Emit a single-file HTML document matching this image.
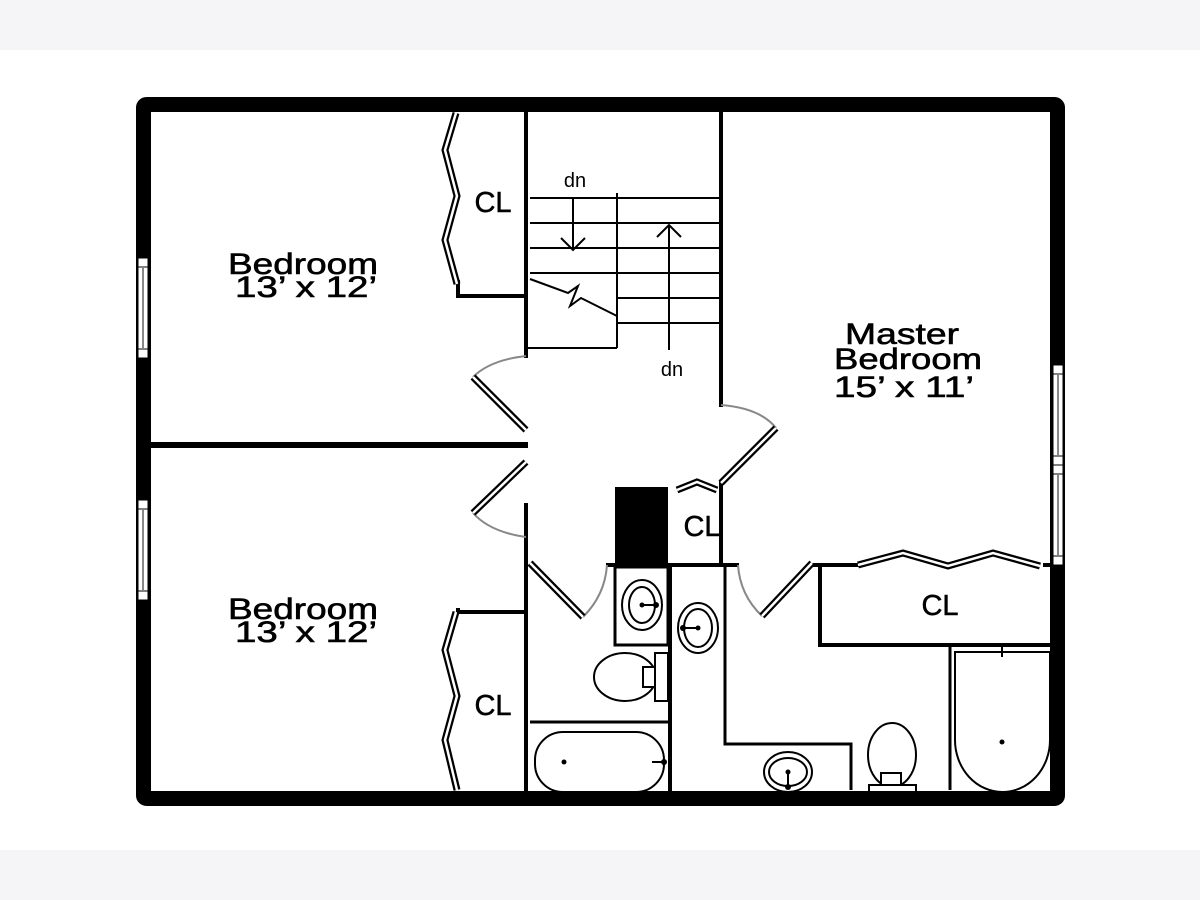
<!DOCTYPE html>
<html><head><style>
html,body{margin:0;padding:0;background:#fff;}
svg{display:block;}
text{font-family:"Liberation Sans",sans-serif;fill:#000;}
</style></head><body>
<svg width="1200" height="900" viewBox="0 0 1200 900">
<rect x="0" y="0" width="1200" height="900" fill="#fff"/>
<rect x="0" y="0" width="1200" height="50" fill="#f5f5f7"/>
<rect x="0" y="850" width="1200" height="50" fill="#f5f5f7"/>

<rect x="143.5" y="104.5" width="914" height="694" fill="none" stroke="#000" stroke-width="15" rx="3"/>

<g fill="#fff" stroke="#000" stroke-width="1">
<rect x="138" y="258" width="10" height="100"/>
<rect x="138" y="500" width="10" height="100"/>
<rect x="1053" y="365" width="10" height="100"/>
<rect x="1053" y="465" width="10" height="100"/>
</g>
<g stroke="#888" stroke-width="2">
<line x1="143" y1="268" x2="143" y2="348"/>
<line x1="143" y1="510" x2="143" y2="590"/>
<line x1="1058" y1="375" x2="1058" y2="455"/>
<line x1="1058" y1="475" x2="1058" y2="555"/>
</g>
<g fill="#fff" stroke="#000" stroke-width="1">
<rect x="138" y="258" width="10" height="9"/><rect x="138" y="349" width="10" height="9"/>
<rect x="138" y="500" width="10" height="9"/><rect x="138" y="591" width="10" height="9"/>
<rect x="1053" y="365" width="10" height="9"/><rect x="1053" y="456" width="10" height="9"/>
<rect x="1053" y="465" width="10" height="9"/><rect x="1053" y="556" width="10" height="9"/>
</g>

<g stroke="#000" stroke-width="4" fill="none" stroke-linecap="square">
<line x1="526" y1="113" x2="526" y2="356"/>
<line x1="526" y1="505" x2="526" y2="790"/>
<line x1="721" y1="113" x2="721" y2="405"/>
<line x1="151" y1="444" x2="526" y2="444"/>
<line x1="151" y1="446" x2="526" y2="446"/>
<polyline points="458,282 458,296 526,296"/>
<polyline points="458,610 458,612 526,612"/>
<line x1="721" y1="483" x2="721" y2="565"/>
<line x1="608" y1="565" x2="737" y2="565"/>
<line x1="812" y1="565" x2="858" y2="565"/>
<line x1="1045" y1="565" x2="1050" y2="565"/>
<polyline points="820,567 820,645 1050,645"/>
<line x1="670" y1="565" x2="670" y2="790"/>
</g>
<g stroke="#000" stroke-width="3" fill="none">
<polyline points="725,565 725,744 851,744 851,790"/>
<line x1="950" y1="647" x2="950" y2="790"/>
<line x1="530" y1="722" x2="668" y2="722"/>
<rect x="615" y="567" width="53" height="78"/>
</g>

<rect x="615" y="487" width="53" height="78" fill="#000"/>

<g stroke="#000" stroke-width="2" fill="none">
<line x1="530" y1="198" x2="720" y2="198"/>
<line x1="530" y1="223" x2="720" y2="223"/>
<line x1="530" y1="248" x2="720" y2="248"/>
<line x1="530" y1="273" x2="720" y2="273"/>
<line x1="617" y1="298" x2="720" y2="298"/>
<line x1="617" y1="323" x2="720" y2="323"/>
<line x1="617" y1="193" x2="617" y2="348"/>
<line x1="528" y1="348" x2="617" y2="348"/>
<polyline points="530,279 568,293 578,286 570,306 581,298 617,316"/>
<line x1="573" y1="198" x2="573" y2="250"/>
<polyline points="561,238 573,250 585,238"/>
<line x1="669" y1="225" x2="669" y2="350"/>
<polyline points="657,237 669,225 681,237"/>
</g>
<text x="575" y="187" font-size="20" text-anchor="middle">dn</text>
<text x="672" y="376" font-size="20" text-anchor="middle">dn</text>

<g stroke="#888" stroke-width="2" fill="none">
<path d="M526,356 Q490,360 473,377"/>
<path d="M473,513 Q490,532 526,537"/>
<path d="M721,405 Q760,408 776,428"/>
<path d="M583,617 Q605,595 607,565"/>
<path d="M738,565 Q740,595 762,616"/>
</g>
<g stroke="#000" stroke-width="7" fill="none" stroke-linejoin="miter">
<line x1="473" y1="377" x2="526" y2="430"/>
<line x1="473" y1="513" x2="526" y2="462"/>
<line x1="776" y1="428" x2="721" y2="483"/>
<line x1="530" y1="563" x2="583" y2="617"/>
<line x1="812" y1="563" x2="762" y2="616"/>
<polyline points="456,113 445,150 457,196 445,240 457,284"/>
<polyline points="456,612 445,650 457,696 445,740 457,790"/>
<polyline points="858,565 903,553 948,566 993,553 1040,566"/>
<polyline points="677,490 697,482 717,490"/>
</g>
<g stroke="#fff" stroke-width="2.5" fill="none">
<line x1="473" y1="377" x2="526" y2="430"/>
<line x1="473" y1="513" x2="526" y2="462"/>
<line x1="776" y1="428" x2="721" y2="483"/>
<line x1="530" y1="563" x2="583" y2="617"/>
<line x1="812" y1="563" x2="762" y2="616"/>
<polyline points="456,113 445,150 457,196 445,240 457,284"/>
<polyline points="456,612 445,650 457,696 445,740 457,790"/>
<polyline points="858,565 903,553 948,566 993,553 1040,566"/>
<polyline points="677,490 697,482 717,490"/>
</g>

<g stroke="#000" stroke-width="2" fill="#fff">
<ellipse cx="642" cy="605" rx="20" ry="25"/>
<ellipse cx="642" cy="605" rx="13" ry="18"/>
<ellipse cx="698" cy="628" rx="20" ry="25"/>
<ellipse cx="698" cy="628" rx="14" ry="19"/>
<ellipse cx="625" cy="677" rx="31" ry="24"/>
<rect x="643" y="667" width="12" height="20"/>
<rect x="655" y="653" width="13" height="48"/>
<rect x="535" y="732" width="129" height="60" rx="28"/>
<ellipse cx="788" cy="772" rx="24" ry="20"/>
<ellipse cx="788" cy="772" rx="19" ry="14"/>
<ellipse cx="892" cy="755" rx="24" ry="32"/>
<rect x="881" y="773" width="20" height="12"/>
<rect x="869" y="785" width="47" height="7"/>
<path d="M955,652 L1050,652 L1050,740 A47.5,52 0 0 1 955,740 Z"/>
</g>
<g fill="#000">
<circle cx="642" cy="605" r="2.5"/><rect x="642" y="604" width="13" height="2"/><circle cx="656" cy="605" r="3"/>
<circle cx="698" cy="628" r="2.5"/><rect x="685" y="627" width="13" height="2"/><circle cx="683" cy="628" r="3"/>
<circle cx="564" cy="762" r="2.5"/><rect x="652" y="761" width="12" height="2"/><circle cx="664" cy="762" r="3"/>
<circle cx="788" cy="772" r="2.5"/><rect x="787" y="772" width="2" height="14"/><circle cx="788" cy="787" r="3"/>
<circle cx="1002" cy="742" r="2.5"/><rect x="1001" y="645" width="2" height="12"/>
</g>

<g font-size="30" text-anchor="middle" stroke="#000" stroke-width="0.6">
<text x="303" y="274" textLength="150" lengthAdjust="spacingAndGlyphs">Bedroom</text>
<text x="306" y="297" textLength="142" lengthAdjust="spacingAndGlyphs">13’ x 12’</text>
<text x="303" y="619" textLength="150" lengthAdjust="spacingAndGlyphs">Bedroom</text>
<text x="306" y="642" textLength="142" lengthAdjust="spacingAndGlyphs">13’ x 12’</text>
<text x="902" y="344" textLength="114" lengthAdjust="spacingAndGlyphs">Master</text>
<text x="908" y="369" textLength="148" lengthAdjust="spacingAndGlyphs">Bedroom</text>
<text x="904" y="397" textLength="140" lengthAdjust="spacingAndGlyphs">15’ x 11’</text>
</g>
<g font-size="29" text-anchor="middle" stroke="#000" stroke-width="0.5">
<text x="493" y="212">CL</text>
<text x="493" y="715">CL</text>
<text x="702" y="536">CL</text>
<text x="940" y="615">CL</text>
</g>
</svg>
</body></html>
